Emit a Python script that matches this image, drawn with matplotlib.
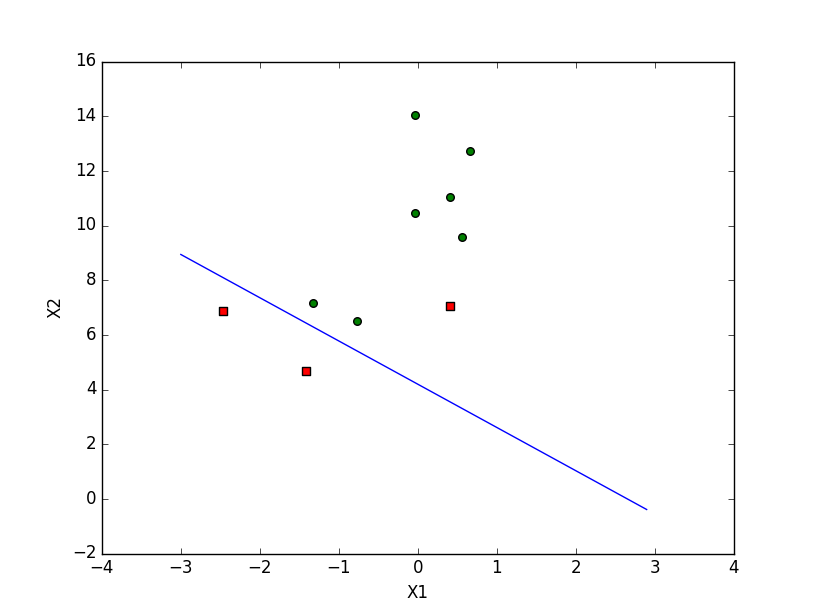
import matplotlib
matplotlib.use("Agg")
import matplotlib.pyplot as plt

plt.style.use('classic')

# Class 1 (red squares)
x1_red = [-2.47, -1.41, 0.41]
x2_red = [6.86, 4.66, 7.04]

# Class 0 (green circles)
x1_green = [-0.04, 0.66, 0.41, -0.04, 0.56, -1.33, -0.77]
x2_green = [14.03, 12.71, 11.03, 10.44, 9.58, 7.15, 6.49]

# Decision boundary end points
line_x = [-3.0, 2.9]
line_y = [8.94, -0.39]

fig = plt.figure(figsize=(8.15, 6.15), dpi=100, facecolor='white')
ax = fig.add_subplot(111)
ax.scatter(x1_red, x2_red, s=30, c='red', marker='s')
ax.scatter(x1_green, x2_green, s=30, c='green')
ax.plot(line_x, line_y, color='blue')
ax.set_xlim(-4, 4)
ax.set_ylim(-2, 16)
plt.xlabel('X1')
plt.ylabel('X2')
plt.savefig('out.png', dpi=100, facecolor='white')
